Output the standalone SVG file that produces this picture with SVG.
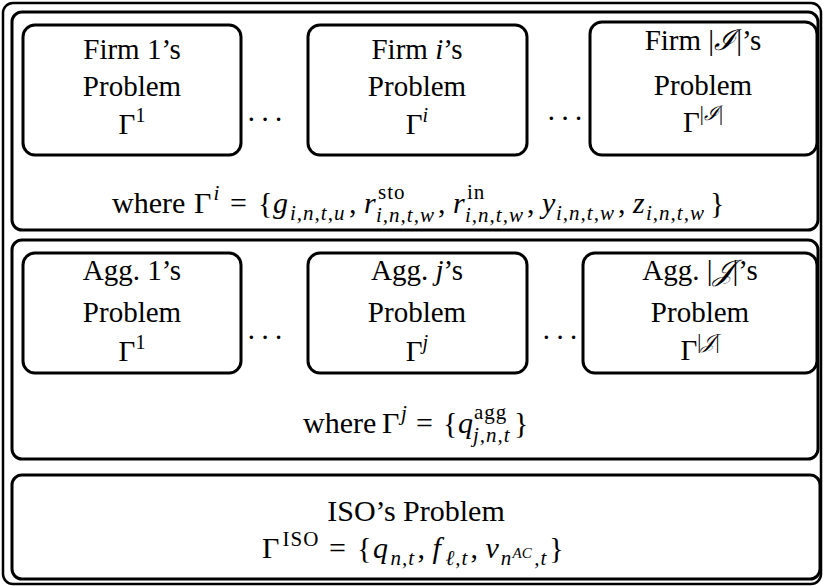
<svg xmlns="http://www.w3.org/2000/svg" width="823" height="586" viewBox="0 0 823 586">
<style>
  .frame{fill:#fff;stroke:#000;stroke-width:2.5}
  .panel{fill:#fff;stroke:#000;stroke-width:3}
  .box{fill:#fff;stroke:#000;stroke-width:3}
  text{font-family:"Liberation Serif","Times New Roman","DejaVu Serif",serif;font-size:29px;fill:#000}
  .c{text-anchor:middle}
  .it{font-style:italic}
  .s{font-size:20px}
  .w{font-size:30px}
  .ws{font-size:21px;letter-spacing:1px}
  .ss{font-size:15px}
  .dots{letter-spacing:4px;text-anchor:middle}
</style>
<rect class="frame" x="3" y="3" width="818" height="581" rx="10"/>

<g id="panel-firms">
  <rect class="panel" x="12" y="12" width="806" height="218" rx="10"/>
  <text x="112" y="213" class="w">where<tspan x="194">Γ</tspan><tspan x="213.5" y="200" class="it ws">i</tspan><tspan x="230" y="213">=</tspan><tspan x="258">{</tspan><tspan x="273" class="it">g</tspan><tspan x="290" y="220" class="it ws">i,n,t,u</tspan><tspan x="349" y="213">,</tspan><tspan x="364" class="it">r</tspan><tspan x="378" y="199" class="ws">sto</tspan><tspan x="376" y="222" class="it ws">i,n,t,w</tspan><tspan x="438" y="213">,</tspan><tspan x="453" class="it">r</tspan><tspan x="467" y="199" class="ws">in</tspan><tspan x="465" y="222" class="it ws">i,n,t,w</tspan><tspan x="527" y="213">,</tspan><tspan x="542" class="it">y</tspan><tspan x="556" y="220" class="it ws">i,n,t,w</tspan><tspan x="618" y="213">,</tspan><tspan x="633" class="it">z</tspan><tspan x="646" y="220" class="it ws">i,n,t,w</tspan><tspan x="710" y="213">}</tspan></text>
  <text class="dots" x="267" y="129">···</text>
  <text class="dots" x="567" y="128">···</text>
</g>
<g id="firm-1">
  <rect class="box" x="23" y="25" width="218" height="130" rx="12"/>
  <text class="c" x="132" y="59">Firm 1’s</text>
  <text class="c" x="132" y="96">Problem</text>
  <text class="c" x="132" y="134">Γ<tspan class="s" dy="-12">1</tspan></text>
</g>
<g id="firm-i">
  <rect class="box" x="308" y="25" width="219" height="130" rx="12"/>
  <text class="c" x="417" y="59">Firm <tspan class="it">i</tspan>’s</text>
  <text class="c" x="417" y="96">Problem</text>
  <text class="c" x="417" y="134">Γ<tspan class="s it" dy="-12">i</tspan></text>
</g>
<g id="firm-I">
  <rect class="box" x="590" y="22" width="227" height="133" rx="12"/>
  <text class="c" x="703" y="50">Firm |<tspan class="it">ℐ</tspan>|’s</text>
  <text class="c" x="703" y="95">Problem</text>
  <text class="c" x="703" y="132">Γ<tspan class="s" dy="-12">|<tspan class="it">ℐ</tspan>|</tspan></text>
</g>

<g id="panel-aggs">
  <rect class="panel" x="12" y="240" width="806" height="219" rx="10"/>
  <text x="303" y="433" class="w">where<tspan x="382">Γ</tspan><tspan x="401" y="420" class="it ws">j</tspan><tspan x="416" y="433">=</tspan><tspan x="443">{</tspan><tspan x="458" class="it">q</tspan><tspan x="474" y="419" class="ws">agg</tspan><tspan x="473" y="442" class="it ws">j,n,t</tspan><tspan x="514" y="433">}</tspan></text>
  <text class="dots" x="267" y="347">···</text>
  <text class="dots" x="562" y="347">···</text>
</g>
<g id="agg-1">
  <rect class="box" x="23" y="253" width="218" height="120" rx="12"/>
  <text class="c" x="132" y="280">Agg. 1’s</text>
  <text class="c" x="132" y="322">Problem</text>
  <text class="c" x="132" y="361">Γ<tspan class="s" dy="-12">1</tspan></text>
</g>
<g id="agg-j">
  <rect class="box" x="308" y="253" width="219" height="120" rx="12"/>
  <text class="c" x="417" y="280">Agg. <tspan class="it">j</tspan>’s</text>
  <text class="c" x="417" y="322">Problem</text>
  <text class="c" x="417" y="361">Γ<tspan class="s it" dy="-12">j</tspan></text>
</g>
<g id="agg-J">
  <rect class="box" x="583" y="253" width="234" height="120" rx="12"/>
  <text class="c" x="700" y="280">Agg. |<tspan class="it">𝒥</tspan>|’s</text>
  <text class="c" x="700" y="322">Problem</text>
  <text class="c" x="700" y="360">Γ<tspan class="s" dy="-12">|<tspan class="it">𝒥</tspan>|</tspan></text>
</g>

<g id="iso">
  <rect class="panel" x="12" y="475" width="808" height="104" rx="10"/>
  <text class="c w" x="416" y="521">ISO’s Problem</text>
  <text x="262" y="558" class="w">Γ<tspan x="282.5" y="546" class="ws">ISO</tspan><tspan x="329" y="558">=</tspan><tspan x="357">{</tspan><tspan x="373" class="it">q</tspan><tspan x="390.5" y="565" class="it ws">n,t</tspan><tspan x="417.5" y="558">,</tspan><tspan x="432.6" class="it">f</tspan><tspan x="445.6" y="565" class="it ws">ℓ,t</tspan><tspan x="470.4" y="558">,</tspan><tspan x="485.6" class="it">v</tspan><tspan x="500.7" y="565" class="it ws">n</tspan><tspan x="512.6" y="558" class="it ss">AC</tspan><tspan x="534.2" y="565" class="it ws">,t</tspan><tspan x="549.3" y="558">}</tspan></text>
</g>
</svg>
